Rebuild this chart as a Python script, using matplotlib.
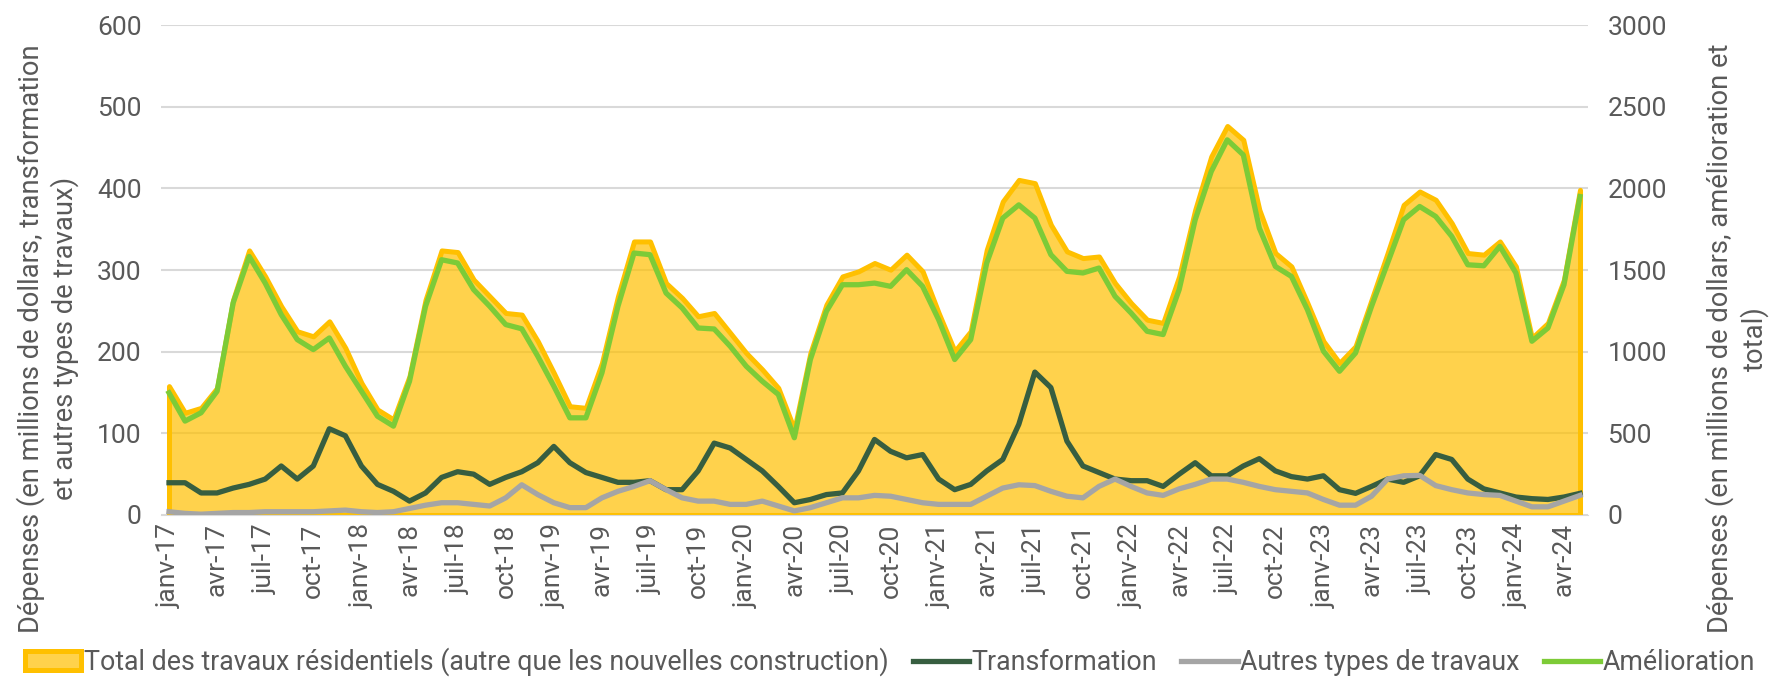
import matplotlib
matplotlib.use("Agg")
import matplotlib.pyplot as plt

plt.rcParams['font.family'] = ['Roboto', 'DejaVu Sans']

# monthly series, janv-17 .. mai-24
mois = ["janv", "févr", "mars", "avr", "mai", "juin",
        "juil", "août", "sept", "oct", "nov", "déc"]
annees = list(range(17, 25))
labels = [f"{m}-{a}" for a in annees for m in mois][:89]

# right axis (millions $)
total = [789, 626, 656, 778, 1318, 1620, 1461, 1278, 1125, 1094, 1186, 1023,
         809, 646, 585, 850, 1318, 1620, 1610, 1441, 1339, 1237, 1227, 1064,
         870, 666, 656, 931, 1339, 1675, 1675, 1420, 1329, 1217, 1237, 1115,
         992, 891, 778, 524, 992, 1288, 1461, 1492, 1543, 1502, 1594, 1492,
         1237, 1003, 1125, 1624, 1920, 2052, 2032, 1777, 1614, 1573, 1583, 1420,
         1298, 1196, 1176, 1461, 1869, 2195, 2382, 2297, 1869, 1604, 1522, 1298,
         1064, 931, 1033, 1318, 1604, 1899, 1981, 1930, 1787, 1604, 1594, 1675,
         1522, 1084, 1176, 1441, 1991]
amelioration = [748, 575, 626, 758, 1298, 1583, 1420, 1227, 1074, 1013, 1084, 911,
                758, 605, 544, 819, 1278, 1563, 1543, 1380, 1278, 1166, 1140, 972,
                789, 595, 595, 870, 1278, 1604, 1594, 1359, 1268, 1145, 1139, 1033,
                911, 819, 738, 473, 952, 1247, 1410, 1410, 1420, 1400, 1502, 1400,
                1196, 952, 1074, 1543, 1818, 1899, 1818, 1594, 1492, 1482, 1512, 1339,
                1237, 1125, 1105, 1380, 1808, 2103, 2297, 2205, 1757, 1522, 1461, 1257,
                1003, 880, 992, 1278, 1543, 1808, 1889, 1828, 1706, 1532, 1526, 1645,
                1482, 1064, 1145, 1410, 1950]
# left axis (millions $)
transformation = [39.5, 39.5, 27, 27, 33, 37.5, 44, 60, 44, 60, 105.6, 97,
                  60, 37.5, 29, 17, 27, 46, 53, 50, 37.5, 46, 53, 64,
                  84, 64, 52, 46, 40, 40, 42, 31, 31, 54, 88, 82,
                  68, 54, 35, 15, 19, 25, 27, 54, 92.5, 78, 70, 74,
                  44, 31, 37.5, 54, 68, 111, 175, 156, 90.5, 60, 52, 44,
                  42, 42, 35, 50, 64, 48, 48, 60, 69, 54, 47, 44,
                  48, 31, 26.5, 35, 44, 40, 48, 74, 68, 44, 32, 27,
                  22, 20, 19, 22, 26.5]
autres = [4, 2, 1, 2, 3, 3, 4, 4, 4, 4, 5, 6,
          4, 3, 4, 8, 12, 15, 15, 13, 11, 21, 37, 25,
          15, 9, 9, 21, 29, 35, 42, 31, 21, 17, 17, 13,
          13, 17, 11, 5, 9, 15, 21, 21, 24, 23, 19, 15,
          13, 13, 13, 23, 33, 37, 36, 29, 23, 21, 35, 44,
          35, 27, 24, 32, 37.5, 44, 44, 40, 35, 31, 29, 27,
          19, 12, 12, 23, 44, 48, 48.5, 36, 31, 27, 25, 24,
          17, 10, 10, 17, 24]

x = list(range(len(labels)))
txt = "#595959"

fig = plt.figure(figsize=(17.69, 6.77), dpi=100)
ax = fig.add_axes([0.091, 0.2393, 0.8067, 0.7237])
ax2 = ax.twinx()
ax.set_zorder(ax2.get_zorder() + 1)
ax.patch.set_visible(False)

area = ax2.fill_between(x, total, 0, facecolor=(1.0, 0.753, 0.0, 0.7),
                        edgecolor="#FFC000", linewidth=3.6, zorder=2,
                        label="Total des travaux résidentiels (autre que les nouvelles construction)")
l_am, = ax2.plot(x, amelioration, color="#7DCB37", lw=3.8, zorder=3,
                 solid_joinstyle="round", label="Amélioration")
l_tr, = ax.plot(x, transformation, color="#375E40", lw=3.8,
                solid_joinstyle="round", label="Transformation")
l_au, = ax.plot(x, autres, color="#A5A5A5", lw=3.8,
                solid_joinstyle="round", label="Autres types de travaux")

ax.set_xlim(-0.5, len(x) - 0.5)
ax.set_ylim(0, 600)
ax2.set_ylim(0, 3000)
ax.set_yticks(range(0, 601, 100))
ax2.set_yticks(range(0, 3001, 500))
ax2.grid(axis="y", color="#D9D9D9", lw=1.5, zorder=0)
ax2.set_axisbelow(True)

ax.set_xticks(x[::3])
ax.set_xticklabels(labels[::3], rotation=90, fontsize=19, color=txt)
ax.tick_params(axis="both", length=0, labelsize=19, labelcolor=txt, pad=6)
ax2.tick_params(axis="y", length=0, labelsize=19, labelcolor=txt, pad=14)
ax.tick_params(axis="y", pad=14)

for a in (ax, ax2):
    for s in a.spines.values():
        s.set_visible(False)
ax2.spines["bottom"].set_visible(True)
ax2.spines["bottom"].set_color("#D9D9D9")

fig.text(0.027, 0.5, "Dépenses (en millions de dollars, transformation\net autres types de travaux)",
         rotation=90, ha="center", va="center", multialignment="center",
         fontsize=19.7, color=txt, linespacing=1.25)
fig.text(0.982, 0.5, "Dépenses (en millions de dollars, amélioration et\ntotal)",
         rotation=90, ha="center", va="center", multialignment="center",
         fontsize=19.7, color=txt, linespacing=1.25)

fig.legend([area, l_tr, l_au, l_am],
           [area.get_label(), l_tr.get_label(), l_au.get_label(), l_am.get_label()],
           loc="center left", bbox_to_anchor=(0.008, 0.022), ncol=4, frameon=False,
           fontsize=19.3, labelcolor=txt, handlelength=2.1, handletextpad=0.1,
           columnspacing=0.9, borderaxespad=0)

fig.savefig("out.png", dpi=100)
